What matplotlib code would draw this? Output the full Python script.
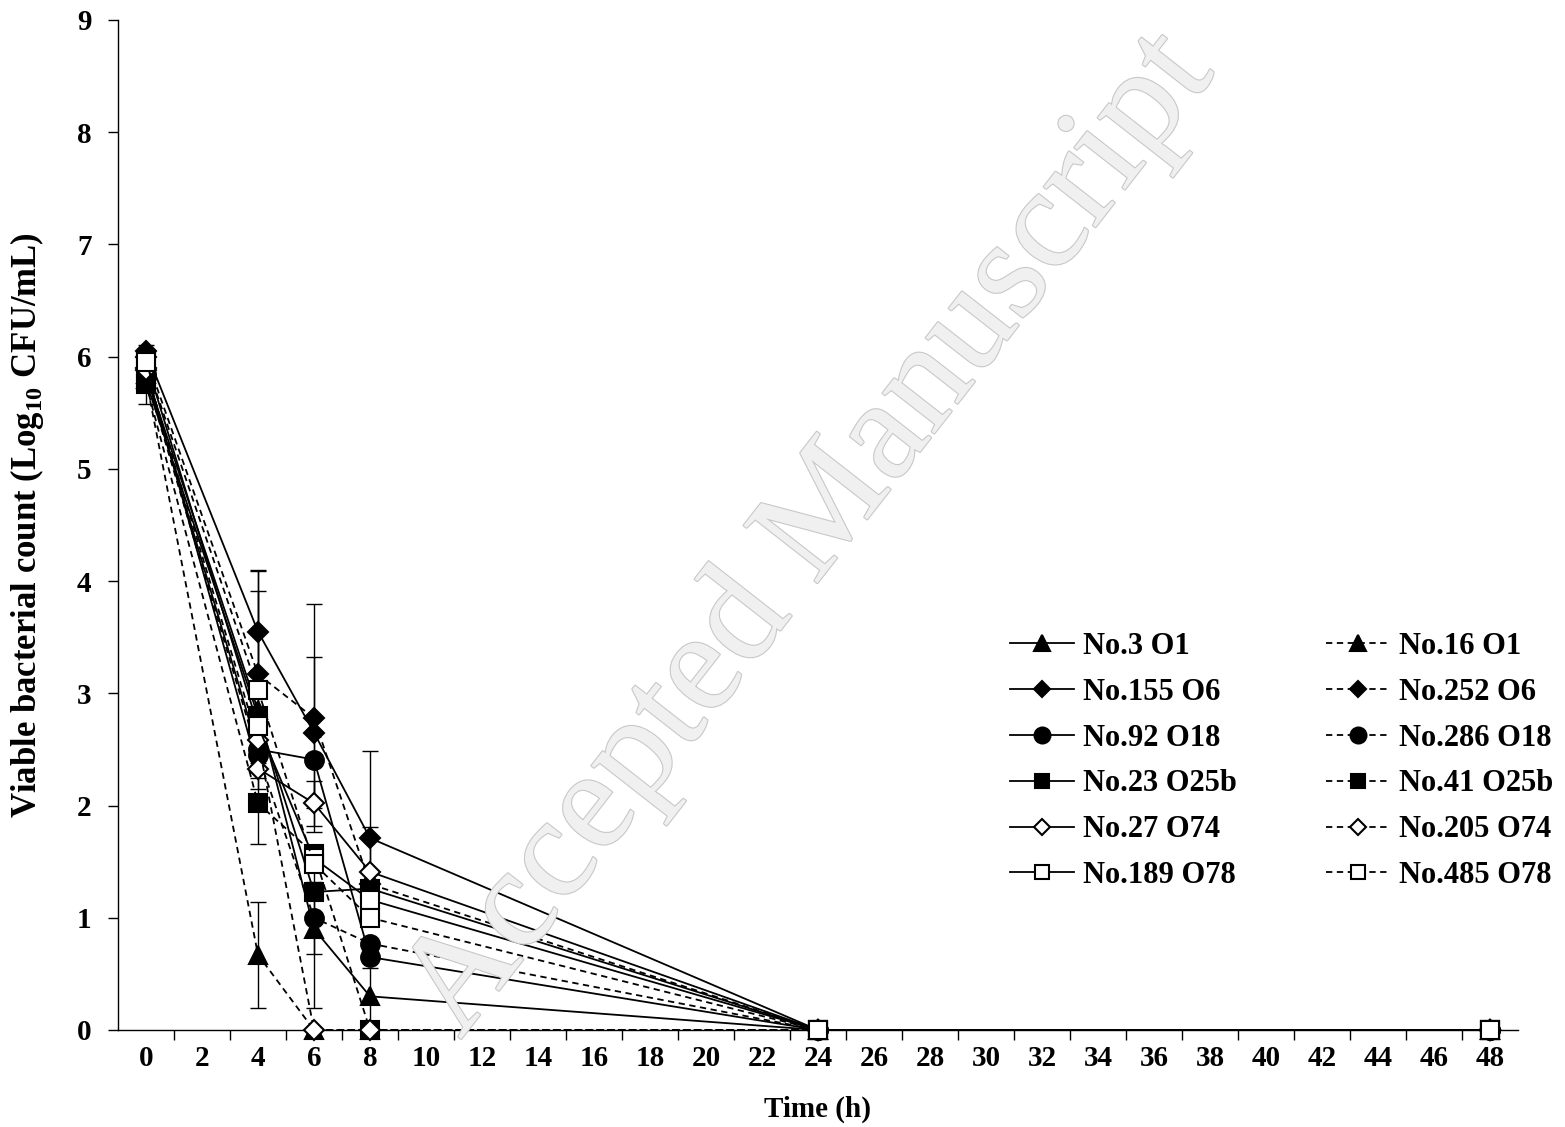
import matplotlib
matplotlib.use("Agg")
import matplotlib.pyplot as plt
import matplotlib.patheffects as pe

plt.rcParams['font.family'] = ['Liberation Serif', 'DejaVu Serif']
plt.rcParams['font.weight'] = 'bold'
plt.rcParams['mathtext.fontset'] = 'custom'
plt.rcParams['mathtext.rm'] = 'Liberation Serif:bold'
plt.rcParams['mathtext.bf'] = 'Liberation Serif:bold'

# ---- data ----
time = [0, 4, 6, 8, 24, 48]
x_labels = list(range(0, 49, 2))

no3 = [5.85, 2.85, 0.90, 0.30, 0, 0]
no16 = [5.80, 0.67, 0, 0, 0, 0]
no155 = [6.05, 3.55, 2.65, 1.71, 0, 0]
no252 = [6.00, 3.17, 2.78, 1.30, 0, 0]
no92 = [5.85, 2.50, 2.41, 0.65, 0, 0]
no286 = [5.82, 2.45, 1.00, 0.77, 0, 0]
no23 = [5.78, 2.80, 1.23, 1.26, 0, 0]
no41 = [5.76, 2.02, 1.57, 0, 0, 0]
no27 = [5.90, 2.33, 2.02, 1.41, 0, 0]
no205 = [5.88, 2.58, 0, 0, 0, 0]
no189 = [5.96, 2.71, 1.53, 1.16, 0, 0]
no485 = [5.95, 3.03, 1.48, 1.00, 0, 0]

err3 = [0, 0, 0.70, 0.25, 0, 0]
err16 = [0, 0.47, 0, 0, 0, 0]
err155 = [0.05, 0.55, 0.67, 0.78, 0, 0]
err252 = [0, 0.92, 1.02, 0, 0, 0]
err92 = [0, 0, 0, 0, 0, 0]
err286 = [0, 0, 0.32, 0, 0, 0]
err23 = [0, 0, 0, 0, 0, 0]
err41 = [0.18, 0.36, 0, 0, 0, 0]
err27 = [0, 0, 0.20, 0.40, 0, 0]
err205 = [0, 0, 0, 0, 0, 0]
err189 = [0, 0, 0, 0, 0, 0]
err485 = [0, 0.88, 0, 0, 0, 0]

labels = ['No.3 O1', 'No.16 O1', 'No.155 O6', 'No.252 O6', 'No.92 O18', 'No.286 O18',
          'No.23 O25b', 'No.41 O25b', 'No.27 O74', 'No.205 O74', 'No.189 O78', 'No.485 O78']
values = [no3, no16, no155, no252, no92, no286, no23, no41, no27, no205, no189, no485]
errors = [err3, err16, err155, err252, err92, err286, err23, err41, err27, err205, err189, err485]

# ---- styles ----
markers = ['^', '^', 'D', 'D', 'o', 'o', 's', 's', 'D', 'D', 's', 's']
msizes = {'^': 13, 'D': 10, 'o': 13.5, 's': 12.5}
filled = [True, True, True, True, True, True, True, True, False, False, False, False]
dashed = [False, True] * 6

fig = plt.figure(figsize=(15.65, 11.27), dpi=100)
ax = fig.add_axes([118/1565, 97/1127, 1400/1565, 1010/1127])

# watermark
wm = fig.text(0.518, 0.525, 'Accepted Manuscript', fontsize=103, fontweight='normal',
              color='#f0f0f0', rotation=52, ha='center', va='center', zorder=0,
              family='Liberation Serif')
wm.set_path_effects([pe.Stroke(linewidth=1.6, foreground='#c8c8c8'), pe.Normal()])

handles = []
for vals, errs, lab, mk, fl, ds in zip(values, errors, labels, markers, filled, dashed):
    if any(e > 0 for e in errs):
        ax.errorbar(time, vals, yerr=errs, fmt='none', ecolor='black', elinewidth=1.0,
                    capsize=6, capthick=1.0, zorder=2, clip_on=False)
    ls = (0, (3.5, 2.5)) if ds else '-'
    ln, = ax.plot(time, vals, linestyle=ls, color='black', linewidth=1.3,
                  marker=mk, markersize=msizes[mk],
                  markerfacecolor='black' if fl else 'white',
                  markeredgecolor='black', markeredgewidth=1.5,
                  label=lab, zorder=3, clip_on=False)
    handles.append(ln)

ax.set_xlim(-1, 49)
ax.set_ylim(0, 9)

ax.spines['top'].set_visible(False)
ax.spines['right'].set_visible(False)
ax.spines['left'].set_linewidth(1.0)
ax.spines['bottom'].set_linewidth(1.0)

ax.set_xticks(x_labels)
ax.set_xticklabels([str(v) for v in x_labels], fontsize=21, fontweight='bold')
ax.set_xticks(list(range(1, 49, 2)), minor=True)
ax.tick_params(axis='x', which='major', length=0, pad=11)
ax.tick_params(axis='x', which='minor', length=7, width=1.0, direction='out')

ax.set_yticks(range(0, 10))
ax.set_yticklabels([str(v) for v in range(0, 10)], fontsize=21, fontweight='bold')
ax.tick_params(axis='y', which='major', length=7, width=1.0, direction='out', pad=12)

ax.set_xlabel('Time (h)', fontsize=21, fontweight='bold', labelpad=17)
ax.set_ylabel(r'Viable bacterial count (Log$_{10}$ CFU/mL)', fontsize=25,
              fontweight='bold', labelpad=22)

order = [0, 2, 4, 6, 8, 10, 1, 3, 5, 7, 9, 11]
leg = ax.legend([handles[i] for i in order], [labels[i] for i in order],
                ncol=2, loc='upper left', bbox_to_anchor=(1010/1565, 1 - 632/1127),
                bbox_transform=fig.transFigure, frameon=False,
                prop={'family': 'Liberation Serif', 'weight': 'bold', 'size': 22},
                handlelength=2.1, handletextpad=0.3, columnspacing=2.9,
                labelspacing=0.55, borderpad=0, borderaxespad=0, markerscale=0.85)

fig.savefig('out.png', dpi=100)
